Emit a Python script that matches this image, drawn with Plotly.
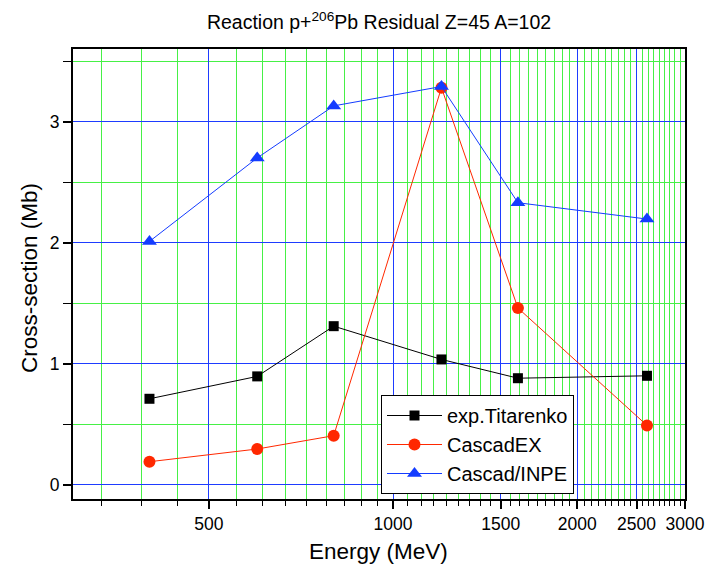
import plotly.graph_objects as go
import numpy as np

energy = [400, 600, 800, 1200, 1600, 2600]
titarenko = [0.71, 0.895, 1.31, 1.035, 0.88, 0.90]
cascadex = [0.19, 0.295, 0.405, 3.28, 1.46, 0.49]
cascad_inpe = [2.01, 2.70, 3.13, 3.29, 2.33, 2.195]

x_major = [500, 1000, 1500, 2000, 2500, 3000]
x_major_text = ["500", "1000", "1500", "2000", "2500", "3000"]
x_minor = [500 / 9 * k for k in range(6, 55) if k % 9 != 0]
y_major = [0, 1, 2, 3]
y_minor = [0.5, 1.5, 2.5, 3.5]

FONT = "Liberation Sans, Arial, sans-serif"
BLUE_GRID = "rgb(30,60,255)"
GREEN_GRID = "rgb(70,240,70)"

W, H = 711, 570
L, R, T, B = 73, 26, 49, 71

fig = go.Figure()
fig.add_trace(go.Scatter(x=energy, y=titarenko, mode="lines+markers", name="exp.Titarenko",
                         line=dict(color="black", width=1),
                         marker=dict(symbol="square", size=10, color="black")))
fig.add_trace(go.Scatter(x=energy, y=cascadex, mode="lines+markers", name="CascadEX",
                         line=dict(color="rgb(255,40,0)", width=1),
                         marker=dict(symbol="circle", size=12, color="rgb(255,40,0)")))
fig.add_trace(go.Scatter(x=energy, y=cascad_inpe, mode="lines+markers", name="Cascad/INPE",
                         line=dict(color="rgb(20,60,255)", width=1),
                         marker=dict(symbol="triangle-up", size=13, color="rgb(20,60,255)")))

fig.update_layout(
    width=W, height=H,
    margin=dict(l=L, r=R, t=T, b=B, autoexpand=False),
    paper_bgcolor="white", plot_bgcolor="white",
    font=dict(family=FONT, color="black"),
    title=dict(text="Reaction p+<sup>206</sup>Pb Residual Z=45 A=102",
               x=(L + W - R) / 2 / W, xanchor="center", y=1 - 22 / H, yanchor="middle",
               font=dict(size=19.5, family=FONT)),
    showlegend=True,
    legend=dict(x=(381 - L) / (W - L - R), y=(H - B - 494) / (H - T - B),
                xanchor="left", yanchor="bottom",
                bgcolor="white", bordercolor="black", borderwidth=1,
                font=dict(size=20, family=FONT), tracegroupgap=0, itemwidth=55),
    annotations=[
        dict(text="Energy (MeV)", xref="paper", yref="paper",
             x=(378 - L) / (W - L - R), y=-(551 - (H - B)) / (H - T - B),
             xanchor="center", yanchor="middle", showarrow=False,
             font=dict(size=22.5, family=FONT)),
        dict(text="Cross-section (Mb)", xref="paper", yref="paper",
             x=-(L - 29) / (W - L - R), y=(H - B - 278) / (H - T - B),
             xanchor="center", yanchor="middle", showarrow=False, textangle=-90,
             font=dict(size=22.5, family=FONT)),
    ],
)

fig.update_xaxes(
    type="log", range=[np.log10(300), np.log10(3000)],
    tickmode="array", tickvals=x_major, ticktext=x_major_text,
    ticks="outside", ticklen=8, tickwidth=1.5, tickcolor="black",
    tickfont=dict(size=17.5),
    showgrid=True, gridcolor=BLUE_GRID, gridwidth=1,
    minor=dict(tickmode="array", tickvals=x_minor, ticks="outside", ticklen=5,
               tickwidth=1, tickcolor="black", showgrid=True, gridcolor=GREEN_GRID, gridwidth=1),
    showline=True, linecolor="black", linewidth=2, mirror=True,
    zeroline=False, automargin=False,
)
fig.update_yaxes(
    range=[-0.118, 3.6],
    tickmode="array", tickvals=y_major, ticktext=[str(v) for v in y_major],
    ticks="outside", ticklen=8, tickwidth=1.5, tickcolor="black",
    tickfont=dict(size=17.5),
    showgrid=True, gridcolor=BLUE_GRID, gridwidth=1,
    minor=dict(tickmode="array", tickvals=y_minor, ticks="outside", ticklen=8,
               tickwidth=1, tickcolor="black", showgrid=True, gridcolor=GREEN_GRID, gridwidth=1),
    showline=True, linecolor="black", linewidth=2, mirror=True,
    zeroline=False, automargin=False,
)

fig.write_html("out.html")
